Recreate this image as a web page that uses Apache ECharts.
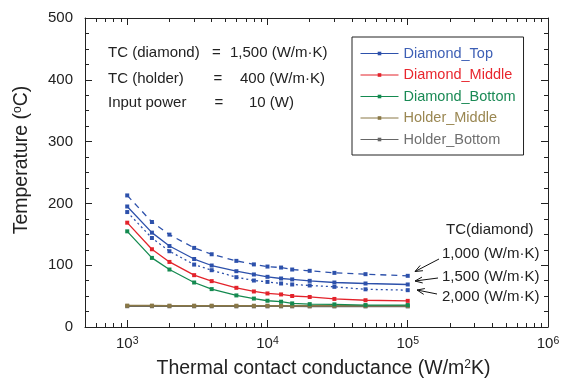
<!DOCTYPE html>
<html><head><meta charset="utf-8">
<script src="https://cdn.jsdelivr.net/npm/echarts@6/dist/echarts.min.js"></script>
<style>html,body{margin:0;padding:0;background:#fff}#c{width:565px;height:378px}</style>
</head><body><div id="c"></div>
<script>
// ---- data ----
const conductance = [1000, 1500, 2000, 3000, 4000, 6000, 8000, 10000, 12500, 15000, 20000, 30000, 50000, 100000];
const diamondTop1000 = [212.9, 169.9, 149.5, 128, 117.7, 107, 101.3, 97.8, 96.2, 93, 90.9, 87.6, 85.5, 82.8];
const diamondTop = [195, 152.7, 131, 110, 99.5, 90.3, 85, 81.2, 78.5, 77, 74.7, 72, 70.4, 68.8];
const diamondTop2000 = [186, 144, 122.6, 101, 91.9, 80.6, 75.2, 73, 70.4, 68.8, 67.2, 65, 61, 59.6];
const diamondMiddle = [168.8, 125.8, 105.3, 83.9, 74.2, 63.4, 57.5, 54.3, 52.7, 50.2, 48.6, 45.4, 43.3, 42.3];
const diamondBottom = [154.8, 111.8, 93, 72, 61.3, 51.1, 46, 42.5, 40.9, 38.2, 37, 36.6, 35.5, 35.5];
const holderMiddle = [34.6, 34.6, 34.5, 34.5, 34.5, 34.4, 34.4, 34.4, 34.4, 34.4, 34.3, 34.3, 34.3, 34.3];
const holderBottom = [33.6, 33.6, 33.5, 33.5, 33.5, 33.4, 33.4, 33.4, 33.4, 33.4, 33.3, 33.3, 33.3, 33.3];
const legendNames = ['Diamond_Top', 'Diamond_Middle', 'Diamond_Bottom', 'Holder_Middle', 'Holder_Bottom'];
const xMinorTicks = [500, 600, 700, 800, 900, 2000, 3000, 4000, 5000, 6000, 7000, 8000, 9000,
  20000, 30000, 40000, 50000, 60000, 70000, 80000, 90000,
  200000, 300000, 400000, 500000, 600000, 700000, 800000, 900000];
const infoRows = [['TC (diamond)', '1,500 (W/m·K)'], ['TC (holder)', '400 (W/m·K)'], ['Input power', '10 (W)']];
const tcLabels = ['TC(diamond)', '1,000 (W/m·K)', '1,500 (W/m·K)', '2,000 (W/m·K)'];

// ---- style ----
const FONT = "'Liberation Sans', Arial, sans-serif";
const INK = '#222';
const C = { blue: '#2d51ab', red: '#e3232b', green: '#148a50', olive: '#8a7846', gray: '#666666' };
const legendText = { Diamond_Top: '#3d5fb5', Diamond_Middle: '#e8262e', Diamond_Bottom: '#1a8a55', Holder_Middle: '#9a8752', Holder_Bottom: '#707070' };

function mk(name, vals, color, type, width) {
  return {
    name, type: 'line', xAxisIndex: 0, yAxisIndex: 0,
    data: conductance.map((c, i) => [c, vals[i]]),
    symbol: 'rect', symbolSize: 4, showSymbol: true,
    lineStyle: { color, width, type }, itemStyle: { color },
    animation: false, emphasis: { disabled: true }
  };
}
const logMin = Math.log10(500), logMax = 6;
const minorLog = xMinorTicks.map(v => Math.log10(v));
const axisLineStyle = { show: true, onZero: false, lineStyle: { color: INK, width: 1 } };

function xLabel(v) {
  const l = Math.log10(v), e = Math.round(l);
  if (Math.abs(l - e) > 1e-6) return '';
  return '10{sup|' + e + '}';
}

// arrows (annotation decoration)
const arrows = [[[439, 259], [415, 271.5]], [[438, 278], [415, 281]], [[437, 294], [417, 290]]];
const arrowGraphics = [];
arrows.forEach(([t, h]) => {
  arrowGraphics.push({ type: 'polyline', shape: { points: [t, h] }, style: { stroke: '#111', lineWidth: 1, fill: null }, silent: true });
  const dx = t[0] - h[0], dy = t[1] - h[1], L = Math.hypot(dx, dy), ux = dx / L, uy = dy / L;
  const a = 0.38, len = 8;
  const p1 = [h[0] + len * (ux * Math.cos(a) - uy * Math.sin(a)), h[1] + len * (ux * Math.sin(a) + uy * Math.cos(a))];
  const p2 = [h[0] + len * (ux * Math.cos(-a) - uy * Math.sin(-a)), h[1] + len * (ux * Math.sin(-a) + uy * Math.cos(-a))];
  arrowGraphics.push({ type: 'polyline', shape: { points: [p1, h, p2] }, style: { stroke: '#111', lineWidth: 1, fill: null }, silent: true });
});

const txt = (x, y, text, size, align, extra) => Object.assign({
  type: 'text', x, y, silent: true,
  style: { text, fontSize: size, fontFamily: FONT, fill: INK, align: align || 'left', verticalAlign: 'middle' }
}, extra || {});

const infoY = [53, 78.5, 102.5];
const eqX = [216.5, 218, 219];
const valX = [230, 240, 249];
const infoGraphics = [];
infoRows.forEach((r, i) => {
  infoGraphics.push(txt(108, infoY[i], r[0], 15));
  infoGraphics.push(txt(eqX[i], infoY[i], '=', 15, 'center'));
  infoGraphics.push(txt(valX[i], infoY[i], r[1], 15));
});
const tcY = [230, 253.5, 277, 296.5];
const tcX = [446, 442, 442, 442];
tcLabels.forEach((t, i) => infoGraphics.push(txt(tcX[i], tcY[i], t, 15)));

const chart = echarts.init(document.getElementById('c'), null, { renderer: 'canvas' });
chart.setOption({
  animation: false,
  backgroundColor: '#fff',
  grid: { left: 85, right: 17, top: 18, bottom: 51, containLabel: false },
  xAxis: [
    { type: 'log', logBase: 10, min: 500, max: 1000000, position: 'bottom',
      axisLine: axisLineStyle, axisTick: { show: true, inside: true, length: 7, lineStyle: { color: INK } },
      axisLabel: { formatter: xLabel, fontSize: 15, fontFamily: FONT, color: INK, margin: 9,
        showMinLabel: true, rich: { sup: { fontSize: 10.5, fontFamily: FONT, color: INK, verticalAlign: 'top', padding: [0, 0, 0, 0] } } },
      splitLine: { show: false } },
    { type: 'value', min: logMin, max: logMax, position: 'bottom',
      axisLine: { show: false, onZero: false }, axisLabel: { show: false }, splitLine: { show: false },
      axisTick: { show: true, inside: true, length: 4, customValues: minorLog, lineStyle: { color: INK } } },
    { type: 'log', logBase: 10, min: 500, max: 1000000, position: 'top',
      axisLine: axisLineStyle, axisTick: { show: true, inside: true, length: 7, lineStyle: { color: INK } },
      axisLabel: { show: false }, splitLine: { show: false } },
    { type: 'value', min: logMin, max: logMax, position: 'top',
      axisLine: { show: false, onZero: false }, axisLabel: { show: false }, splitLine: { show: false },
      axisTick: { show: true, inside: true, length: 4, customValues: minorLog, lineStyle: { color: INK } } }
  ],
  yAxis: [
    { type: 'value', min: 0, max: 500, interval: 100, position: 'left',
      axisLine: axisLineStyle, axisTick: { show: true, inside: true, length: 7, lineStyle: { color: INK } },
      minorTick: { show: true, splitNumber: 4, length: 4, lineStyle: { color: INK } },
      axisLabel: { fontSize: 15, fontFamily: FONT, color: INK, margin: 12 },
      splitLine: { show: false }, minorSplitLine: { show: false } },
    { type: 'value', min: 0, max: 500, interval: 100, position: 'right',
      axisLine: axisLineStyle, axisTick: { show: true, inside: true, length: 7, lineStyle: { color: INK } },
      minorTick: { show: true, splitNumber: 4, length: 4, lineStyle: { color: INK } },
      axisLabel: { show: false }, splitLine: { show: false }, minorSplitLine: { show: false } }
  ],
  legend: {
    orient: 'vertical', left: 352, top: 37,
    padding: [9, 8, 8, 8], itemGap: 6.5, itemWidth: 38, itemHeight: 4.5,
    borderColor: '#222', borderWidth: 1, backgroundColor: '#fff',
    selectedMode: false,
    lineStyle: { width: 1 },
    textStyle: { fontSize: 14.5, fontFamily: FONT, lineHeight: 14 },
    data: legendNames.map(n => ({ name: n, textStyle: { color: legendText[n] } }))
  },
  series: [
    mk('Holder_Bottom', holderBottom, C.gray, 'solid', 1.5),
    mk('Holder_Middle', holderMiddle, C.olive, 'solid', 1.5),
    mk('Diamond_Bottom', diamondBottom, C.green, 'solid', 1.3),
    mk('Diamond_Middle', diamondMiddle, C.red, 'solid', 1.3),
    mk('Diamond_Top (2,000 W/m·K)', diamondTop2000, C.blue, [2, 3], 1.3),
    mk('Diamond_Top', diamondTop, C.blue, 'solid', 1.3),
    mk('Diamond_Top (1,000 W/m·K)', diamondTop1000, C.blue, [6, 5], 1.3)
  ],
  graphic: [
    { type: 'text', x: 22, y: 160, rotation: Math.PI / 2, silent: true,
      style: { text: 'Temperature ({sup|o}C)', fontSize: 19.5, fontFamily: FONT, fill: INK, align: 'center', verticalAlign: 'middle',
        rich: { sup: { fontSize: 12, fontFamily: FONT, fill: INK, verticalAlign: 'top' } } } },
    { type: 'text', x: 323.5, y: 369, silent: true,
      style: { text: 'Thermal contact conductance (W/m{sup|2}K)', fontSize: 19.5, fontFamily: FONT, fill: INK, align: 'center', verticalAlign: 'middle',
        rich: { sup: { fontSize: 12, fontFamily: FONT, fill: INK, verticalAlign: 'top' } } } }
  ].concat(infoGraphics, arrowGraphics)
});
</script></body></html>
